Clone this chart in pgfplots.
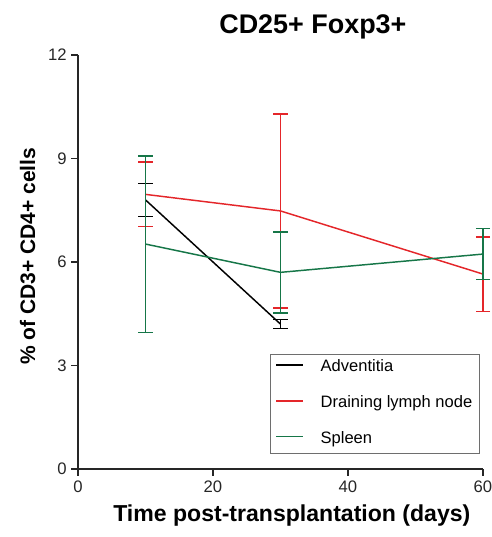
\documentclass[border=0pt]{standalone}
\usepackage{fontspec}
\setmainfont{Liberation Sans}
\usepackage{pgfplots}
\pgfplotsset{compat=1.18}
\definecolor{cred}{RGB}{228,38,42}
\definecolor{cgreen}{RGB}{22,118,72}
\definecolor{legdraw}{RGB}{110,110,110}
\begin{document}
\begin{tikzpicture}
\useasboundingbox (0,0) rectangle (369pt,402.75pt);
\begin{axis}[
  at={(58.5pt,51pt)}, anchor=south west,
  scale only axis, width=303.75pt, height=310.5pt,
  xmin=0, xmax=60, ymin=0, ymax=12,
  xtick={0,20,40,60}, ytick={0,3,6,9,12},
  axis lines*=left,
  axis line style={line width=1.3pt, black!85},
  tick align=outside, tick style={line width=0.9pt, black!85},
  major tick length=5pt,
  /pgf/number format/assume math mode=true,
  tick label style={font=\fontsize{12.5}{14}\selectfont, black!85},
  clip=false,
  title={\bfseries CD25+ Foxp3+},
  every axis title/.style={at={(rel axis cs:0.58,1.051)}, anchor=base, font=\fontsize{20.2}{24}\selectfont},
  xlabel={\bfseries Time post-transplantation (days)},
  every axis x label/.style={at={(rel axis cs:0.528,-0.127)}, anchor=base, font=\fontsize{17.3}{20}\selectfont},
  ylabel={\bfseries \% of CD3+ CD4+ cells},
  every axis y label/.style={at={(rel axis cs:-0.106,0.514)}, rotate=90, anchor=base, font=\fontsize{15.75}{18}\selectfont},
  legend cell align=left,
  legend image code/.code={\draw[#1, line width=1.3pt] (0pt,2.5pt) -- (20pt,2.5pt);},
  legend style={at={(rel axis cs:0.993,0.278)}, anchor=north east,
    draw=legdraw, line width=0.8pt, inner xsep=3.5pt, inner ysep=3.5pt,
    row sep=12.8pt,
    font=\fontsize{12.4}{14}\selectfont,
    nodes={inner sep=2pt, text height=0.75em, text depth=0.25em},
    /tikz/every odd column/.append style={column sep=10.5pt}},
  error bars/y dir=both, error bars/y explicit,
  error bars/error mark options={rotate=90, mark size=5.3pt, line width=1.2pt},
  error bars/error bar style={line width=1.2pt},
]
\addplot[black, line width=1.1pt, mark=none] coordinates {
  (10,7.80) +- (0,0.48)
  (30,4.20) +- (0,0.13)
};
\addlegendentry{Adventitia}
\addplot[cred, line width=1.1pt, mark=none] coordinates {
  (10,7.96) +- (0,0.93)
  (30,7.48) +- (0,2.81)
  (60,5.65) +- (0,1.08)
};
\addlegendentry{Draining lymph node}
\addplot[cgreen, line width=1.1pt, mark=none] coordinates {
  (10,6.52) +- (0,2.56)
  (30,5.70) +- (0,1.17)
  (60,6.23) +- (0,0.74)
};
\addlegendentry{Spleen}
\end{axis}
\end{tikzpicture}
\end{document}
